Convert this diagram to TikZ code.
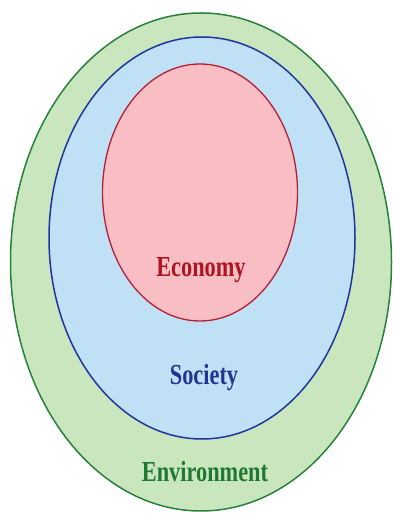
\documentclass[tikz,border=0pt]{standalone}
\usepackage{fontspec}
\setmainfont{Liberation Serif}
\definecolor{envfill}{RGB}{202,230,190}
\definecolor{envline}{RGB}{40,130,60}
\definecolor{envtext}{RGB}{30,120,50}
\definecolor{socfill}{RGB}{192,224,245}
\definecolor{socline}{RGB}{30,55,160}
\definecolor{soctext}{RGB}{35,50,150}
\definecolor{ecofill}{RGB}{248,190,195}
\definecolor{ecoline}{RGB}{185,30,50}
\definecolor{ecotext}{RGB}{175,20,35}
\tikzset{lbl/.style={font=\fontsize{29}{32}\selectfont\bfseries, xscale=0.77, anchor=base, inner sep=0pt}}
\begin{document}
\begin{tikzpicture}[x=1pt,y=1pt]
\useasboundingbox (0,0) rectangle (393,516);
\fill[white] (0,0) rectangle (393,516);
\draw[envline, fill=envfill, line width=1.5pt] (201,254) ellipse [x radius=190.5, y radius=249];
\draw[socline, fill=socfill, line width=1.5pt] (202,278) ellipse [x radius=153, y radius=201];
\draw[ecoline, fill=ecofill, line width=1.3pt] (200,323.5) ellipse [x radius=97.5, y radius=128.5];
\node[lbl, text=ecotext] (eco) at (201,239) {Economy};
\node[lbl, text=soctext] (soc) at (204,131) {Society};
\node[lbl, text=envtext] (env) at (205,34) {Environment};
\end{tikzpicture}
\end{document}
